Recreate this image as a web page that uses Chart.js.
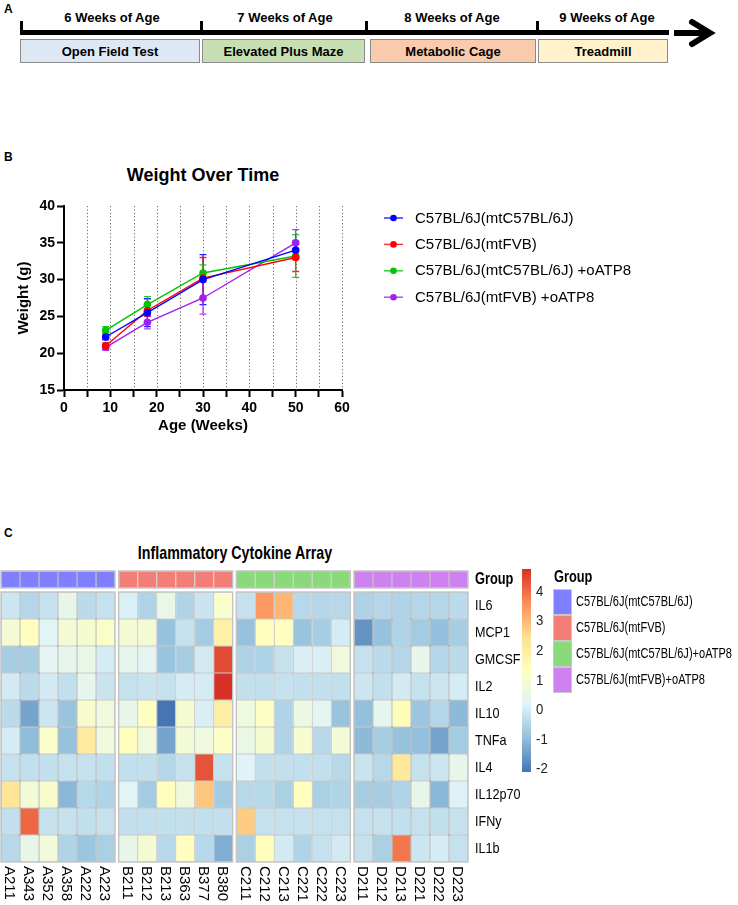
<!DOCTYPE html>
<html>
<head>
<meta charset="utf-8">
<script src="https://cdn.jsdelivr.net/npm/chart.js@4.4.1/dist/chart.umd.min.js"></script>
<style>
html,body{margin:0;padding:0;background:#fff;}
body{width:738px;height:905px;position:relative;overflow:hidden;font-family:"Liberation Sans",Arial,sans-serif;color:#000;}
.abs{position:absolute;}
.plab{font-weight:bold;font-size:12px;line-height:14px;}
.wk{font-weight:bold;font-size:13px;line-height:16px;white-space:nowrap;transform:translateX(-50%);}
.box{border:1px solid #8a8a8a;box-sizing:border-box;display:flex;align-items:center;justify-content:center;font-weight:bold;font-size:13px;white-space:nowrap;}
.ttl{font-weight:bold;white-space:nowrap;transform:translateX(-50%);}
canvas{position:absolute;left:0;}
</style>
</head>
<body>
<div class="abs plab" style="left:4px;top:2px">A</div>
<div id="panelA"></div>
<svg class="abs" style="left:660px;top:14px" width="70" height="40">
  <line x1="14" y1="19" x2="47" y2="19" stroke="#000" stroke-width="6"/>
  <polyline points="32,8 50,19 32,30" fill="none" stroke="#000" stroke-width="6" stroke-linecap="round" stroke-linejoin="miter"/>
</svg>

<div class="abs plab" style="left:4px;top:150px">B</div>
<div class="abs ttl" style="left:203px;top:164px;font-size:18px;line-height:22px">Weight Over Time</div>
<canvas id="weightChart" width="738" height="300" style="top:140px;width:738px;height:300px"></canvas>

<div class="abs plab" style="left:4px;top:526px">C</div>
<div class="abs ttl" style="left:235px;top:541px;font-size:19px;line-height:23px;transform:translateX(-50%) scaleX(0.75)">Inflammatory Cytokine Array</div>
<canvas id="heatChart" width="738" height="365" style="top:540px;width:738px;height:365px"></canvas>

<script>
// ---------------- Panel A content ----------------
const timelineWeeks = ['6 Weeks of Age', '7 Weeks of Age', '8 Weeks of Age', '9 Weeks of Age'];
const timelineTests = ['Open Field Test', 'Elevated Plus Maze', 'Metabolic Cage', 'Treadmill'];

// ---------------- Panel B data ----------------
const ageWeeks = [9, 18, 30, 50];
const weightSeriesNames = ['C57BL/6J(mtC57BL/6J)', 'C57BL/6J(mtFVB)', 'C57BL/6J(mtC57BL/6J) +oATP8', 'C57BL/6J(mtFVB) +oATP8'];
const weightMtC57 = [22.2, 25.5, 30.0, 34.0];
const weightMtFVB = [21.0, 25.8, 30.2, 33.0];
const weightMtC57oATP8 = [23.1, 26.6, 30.9, 33.2];
const weightMtFVBoATP8 = [20.8, 24.2, 27.5, 35.0];
const errMtC57 = [0.4, 1.9, 3.4, 1.2];
const errMtFVB = [0.4, 0.8, 2.8, 1.9];
const errMtC57oATP8 = [0.5, 1.1, 1.1, 2.9];
const errMtFVBoATP8 = [0.4, 0.9, 2.2, 1.8];

// ---------------- Panel C data ----------------
const samples = ['A211','A343','A352','A358','A222','A223',
                 'B211','B212','B213','B363','B377','B380',
                 'C211','C212','C213','C221','C222','C223',
                 'D211','D212','D213','D221','D222','D223'];
const groupNames = ['C57BL/6J(mtC57BL/6J)', 'C57BL/6J(mtFVB)', 'C57BL/6J(mtC57BL/6J)+oATP8', 'C57BL/6J(mtFVB)+oATP8'];
const sampleGroup = [0,0,0,0,0,0, 1,1,1,1,1,1, 2,2,2,2,2,2, 3,3,3,3,3,3];
const cytokines = ['IL6','MCP1','GMCSF','IL2','IL10','TNFa','IL4','IL12p70','IFNy','IL1b'];
const il6     = [-0.10,-0.45,-0.20, 0.50,-0.35,-0.20,  0.10,-0.50, 0.53,-0.50,-0.15, 1.12, -0.20, 3.45, 3.06,-0.40,-0.45,-0.40, -0.54,-0.45,-0.50,-0.45,-0.45,-0.35];
const mcp1    = [ 0.92, 1.36, 0.24, 0.92, 0.97, 1.16,  0.92, 0.92,-0.88,-0.20,-0.69, 1.90, -0.88, 1.36, 1.36,-0.84,-0.64, 0.04, -1.62,-0.88,-0.50,-0.69,-0.93,-0.64];
const gmcsf   = [-0.64,-0.64, 0.29, 0.43, 0.53, 0.04,  0.43, 0.34,-0.84,-0.64, 0.00, 4.43, -0.54,-0.54,-0.20, 0.09, 0.09, 0.77, -0.20,-0.35,-0.45, 0.48,-0.45,-0.35];
const il2     = [ 0.00,-0.35, 0.00,-0.25, 0.43,-0.15, -0.20,-0.15,-0.20, 0.04, 0.04, 4.77, -0.25,-0.25,-0.20,-0.25,-0.25,-0.25, -0.10,-0.25, 0.00,-0.20,-0.10, 0.04];
const il10    = [-0.35,-1.37,-0.10,-0.84, 1.07, 0.77,  0.48, 1.36,-2.10, 0.97, 0.09, 1.99,  0.72, 1.26,-0.50, 0.68, 0.34,-0.84, -0.93, 0.38, 1.50,-0.79,-0.45,-1.03];
const tnfa    = [ 0.04,-0.98, 1.12,-0.88, 2.09, 0.77,  1.41, 0.77,-1.37, 0.87, 0.72, 1.21,  0.58, 0.97,-0.50, 1.02,-0.40, 0.87, -1.03,-0.64,-0.88,-0.93,-1.37,-0.69];
const il4     = [-0.20,-0.25,-0.25,-0.20,-0.20,-0.25, -0.25,-0.25,-0.45,-0.20, 4.33,-0.20,  0.19,-0.25,-0.25,-0.25,-0.25,-0.40, -0.15,-0.40, 2.19,-0.20,-0.10, 0.48];
const il12p70 = [ 2.29, 0.87, 1.07,-1.08,-0.40,-0.50,  0.24,-0.69, 1.36, 0.77, 2.82,-0.69, -0.40,-0.40,-0.59, 1.36,-0.59,-0.50, -0.64,-0.64,-0.50, 0.48,-1.08, 0.14];
const ifny    = [-0.25, 4.09,-0.20,-0.20,-0.25,-0.20, -0.25,-0.25,-0.25,-0.25,-0.25,-0.25,  2.77,-0.20,-0.20,-0.20,-0.20,-0.20, -0.20,-0.20,-0.25,-0.20,-0.25,-0.20];
const il1b    = [-0.40, 0.48, 0.82,-0.50,-0.79,-0.59,  0.48, 0.97,-0.40, 1.36,-0.40,-1.22, -0.59, 1.41, 0.00,-0.50,-0.20, 0.00, -0.20,-0.59, 3.89,-0.10, 0.04,-0.20];
const colorbarTicks = [4, 3, 2, 1, 0, -1, -2];

// ================= Panel A (diagram) =================
(function(){
  const host = document.getElementById('panelA');
  const wkCenters = [112, 285, 452, 607];
  const tickX = [20, 200, 365, 536];
  const boxes = [[20,200],[202,365],[370,536],[538,668]];
  const boxColors = ['#DEE8F4','#C6E0B4','#F8CBAD','#FFF2CC'];
  let html = '<div class="abs" style="left:20px;top:30px;width:649px;height:5px;background:#000"></div>';
  tickX.forEach(x => { html += '<div class="abs" style="left:'+x+'px;top:21px;width:3px;height:12px;background:#000"></div>'; });
  timelineWeeks.forEach((t,i) => { html += '<div class="abs wk" style="left:'+wkCenters[i]+'px;top:10px">'+t+'</div>'; });
  timelineTests.forEach((t,i) => {
    const b = boxes[i];
    html += '<div class="abs box" style="left:'+b[0]+'px;top:39px;width:'+(b[1]-b[0])+'px;height:24px;background:'+boxColors[i]+'">'+t+'</div>';
  });
  host.innerHTML = html;
})();

Chart.defaults.font.family = '"Liberation Sans", Arial, sans-serif';
Chart.defaults.color = '#000';

// ================= Panel B =================
const weightColors = ['#0000FF', '#FF0000', '#00C400', '#A020F0'];
const weightValues = [weightMtC57, weightMtFVB, weightMtC57oATP8, weightMtFVBoATP8];
const weightErrors = [errMtC57, errMtFVB, errMtC57oATP8, errMtFVBoATP8];

const dottedGrid = {
  id: 'dottedGrid',
  beforeDatasetsDraw(chart) {
    const {ctx, chartArea, scales: {x}} = chart;
    ctx.save();
    ctx.strokeStyle = '#6a6a6a';
    ctx.lineWidth = 1;
    ctx.setLineDash([1.2, 2.2]);
    x.ticks.forEach(t => {
      if (t.value <= x.min) return;
      const px = Math.round(x.getPixelForValue(t.value)) + 0.5;
      ctx.beginPath(); ctx.moveTo(px, chartArea.top); ctx.lineTo(px, chartArea.bottom); ctx.stroke();
    });
    ctx.restore();
  }
};
const errorBars = {
  id: 'errorBars',
  beforeDatasetsDraw(chart) {
    const {ctx, scales: {x, y}} = chart;
    chart.data.datasets.forEach(ds => {
      ctx.save();
      ctx.strokeStyle = ds.borderColor;
      ctx.globalAlpha = 0.85;
      ctx.lineWidth = 1.3;
      ds.data.forEach((p, i) => {
        const e = ds.errors[i];
        const px = x.getPixelForValue(p.x);
        const t = y.getPixelForValue(p.y + e), b = y.getPixelForValue(p.y - e);
        ctx.beginPath();
        ctx.moveTo(px, t); ctx.lineTo(px, b);
        ctx.moveTo(px - 3.5, t); ctx.lineTo(px + 3.5, t);
        ctx.moveTo(px - 3.5, b); ctx.lineTo(px + 3.5, b);
        ctx.stroke();
      });
      ctx.restore();
    });
  }
};
const weightLegend = {
  id: 'weightLegend',
  afterDraw(chart) {
    const {ctx} = chart;
    ctx.save();
    chart.data.datasets.forEach((ds, i) => {
      const yy = 78 + i * 26.4;
      ctx.strokeStyle = ds.borderColor; ctx.lineWidth = 1.5; ctx.globalAlpha = 0.8;
      ctx.beginPath(); ctx.moveTo(384, yy); ctx.lineTo(403, yy); ctx.stroke();
      ctx.globalAlpha = 1;
      ctx.fillStyle = ds.borderColor;
      ctx.beginPath(); ctx.arc(393.5, yy, 3.3, 0, Math.PI * 2); ctx.fill();
      ctx.fillStyle = '#000';
      ctx.font = '15px "Liberation Sans", Arial, sans-serif';
      ctx.textAlign = 'left'; ctx.textBaseline = 'middle';
      ctx.fillText(ds.label, 415, yy + 0.5);
    });
    ctx.restore();
  }
};

new Chart(document.getElementById('weightChart'), {
  type: 'line',
  data: {
    datasets: weightSeriesNames.map((name, s) => ({
      label: name,
      data: ageWeeks.map((w, i) => ({x: w, y: weightValues[s][i]})),
      errors: weightErrors[s],
      borderColor: weightColors[s],
      backgroundColor: weightColors[s],
      pointBackgroundColor: weightColors[s],
      pointBorderWidth: 0,
      pointRadius: 3.8,
      borderWidth: 1.4,
      tension: 0
    }))
  },
  options: {
    responsive: false, animation: false, devicePixelRatio: 1,
    layout: {padding: {top: 66, right: 396, left: 0, bottom: 0}},
    plugins: {legend: {display: false}, tooltip: {enabled: false}, title: {display: false}},
    scales: {
      x: {
        type: 'linear', min: 0, max: 60,
        afterFit(s) { s.height = 50; },
        ticks: {stepSize: 5, autoSkip: false, maxRotation: 0, padding: 3, color: '#000',
                font: {size: 14, weight: 'bold'},
                callback: v => (v % 10 === 0 ? String(v) : '')},
        grid: {drawOnChartArea: false, drawTicks: true, tickLength: 7, tickWidth: 2, tickColor: '#000'},
        border: {display: true, color: '#000', width: 2},
        title: {display: true, text: 'Age (Weeks)', color: '#000', font: {size: 15, weight: 'bold'}, padding: {top: 0, bottom: 5}}
      },
      y: {
        type: 'linear', min: 15, max: 40,
        afterFit(s) { s.width = 64; },
        ticks: {stepSize: 5, padding: 2, color: '#000', font: {size: 14, weight: 'bold'}},
        grid: {drawOnChartArea: false, drawTicks: true, tickLength: 7, tickWidth: 2, tickColor: '#000'},
        border: {display: true, color: '#000', width: 2},
        title: {display: true, text: 'Weight (g)', color: '#000', font: {size: 15, weight: 'bold'}, padding: {top: 15, bottom: 0}}
      }
    }
  },
  plugins: [dottedGrid, errorBars, weightLegend]
});

// ================= Panel C =================
const cytokineValues = [il6, mcp1, gmcsf, il2, il10, tnfa, il4, il12p70, ifny, il1b];
const groupColors = ['#7F7FFF', '#F37E78', '#8AD97A', '#CD82EF'];
const heatStops = ['#4575B4','#91BFDB','#E0F3F8','#FFFFBF','#FEE090','#FC8D59','#D73027'];
const heatMin = -2.1, heatMax = 4.77;
const baseFont = '"Liberation Sans", Arial, sans-serif';
function hexRgb(h) { return [parseInt(h.slice(1,3),16), parseInt(h.slice(3,5),16), parseInt(h.slice(5,7),16)]; }
const heatRgb = heatStops.map(hexRgb);
function heatColor(v) {
  let t = (v - heatMin) / (heatMax - heatMin);
  t = Math.max(0, Math.min(1, t));
  const s = t * (heatRgb.length - 1);
  const i = Math.min(heatRgb.length - 2, Math.floor(s));
  const f = s - i;
  const a = heatRgb[i], b = heatRgb[i + 1];
  return 'rgb(' + [0,1,2].map(k => Math.round(a[k] + (b[k] - a[k]) * f)).join(',') + ')';
}
// draw condensed text (Arial-Narrow-like) by squeezing horizontally
function narrowText(ctx, text, x, y, sx) {
  ctx.save();
  ctx.translate(x, y);
  ctx.scale(sx, 1);
  ctx.fillText(text, 0, 0);
  ctx.restore();
}
const GROUP_GAP = 0.19;
const GROUP_SIZE = 6;
function colStart(i) { const g = Math.floor(i / GROUP_SIZE); return g * (GROUP_SIZE + GROUP_GAP) + (i % GROUP_SIZE); }
function colCenter(i) { return colStart(i) + 0.5; }
const nGroups = groupNames.length;
const xMaxUnits = nGroups * GROUP_SIZE + (nGroups - 1) * GROUP_GAP;
const ANNOT = [-0.78, -0.15];

const heatDecor = {
  id: 'heatDecor',
  afterDatasetsDraw(chart) {
    const {ctx, scales: {x, y}} = chart;
    ctx.save();
    // group outlines
    ctx.strokeStyle = '#c4c4c4'; ctx.lineWidth = 1.4;
    for (let g = 0; g < nGroups; g++) {
      const x0 = x.getPixelForValue(g * (GROUP_SIZE + GROUP_GAP));
      const x1 = x.getPixelForValue(g * (GROUP_SIZE + GROUP_GAP) + GROUP_SIZE);
      const y0 = y.getPixelForValue(0), y1 = y.getPixelForValue(cytokines.length);
      ctx.strokeRect(x0, y0, x1 - x0, y1 - y0);
      const a0 = y.getPixelForValue(ANNOT[0]), a1 = y.getPixelForValue(ANNOT[1]);
      ctx.strokeRect(x0, a0, x1 - x0, a1 - a0);
    }
    // row labels
    ctx.fillStyle = '#000';
    ctx.textAlign = 'left'; ctx.textBaseline = 'middle';
    ctx.font = 'bold 16px ' + baseFont;
    narrowText(ctx, 'Group', 475, y.getPixelForValue((ANNOT[0] + ANNOT[1]) / 2), 0.8);
    ctx.font = '15px ' + baseFont;
    cytokines.forEach((c, r) => narrowText(ctx, c, 475, y.getPixelForValue(r + 0.5), 0.84));
    // column labels (rotated, reading downward)
    ctx.font = '15px ' + baseFont;
    samples.forEach((s, i) => {
      ctx.save();
      ctx.translate(x.getPixelForValue(colCenter(i)) - 1, y.getPixelForValue(cytokines.length) + 4);
      ctx.rotate(Math.PI / 2);
      ctx.textAlign = 'left'; ctx.textBaseline = 'middle';
      ctx.fillText(s, 0, 0);
      ctx.restore();
    });
    // colour bar
    const cbTop = 29, cbBot = 232, cbX = 522, cbW = 9;
    const valToPx = v => cbTop + (heatMax - v) / (heatMax - heatMin) * (cbBot - cbTop);
    for (let py = cbTop; py < cbBot; py++) {
      const v = heatMax - (py + 0.5 - cbTop) / (cbBot - cbTop) * (heatMax - heatMin);
      ctx.fillStyle = heatColor(v);
      ctx.fillRect(cbX, py, cbW, 1);
    }
    ctx.fillStyle = '#222';
    ctx.font = '15px ' + baseFont;
    colorbarTicks.forEach(t => narrowText(ctx, String(t), 536, valToPx(t), 0.88));
    // group legend
    ctx.fillStyle = '#000';
    ctx.font = 'bold 16px ' + baseFont;
    narrowText(ctx, 'Group', 554, 38, 0.8);
    ctx.font = '13.8px ' + baseFont;
    groupNames.forEach((g, i) => {
      const top = 49 + i * 26;
      ctx.fillStyle = groupColors[i];
      ctx.fillRect(553, top, 19, 26);
      ctx.strokeStyle = '#c8c8c8'; ctx.lineWidth = 1;
      ctx.strokeRect(553.5, top + 0.5, 18, 25);
      ctx.fillStyle = '#000';
      narrowText(ctx, g, 576, top + 13, 0.8);
    });
    ctx.restore();
  }
};

const heatDatasets = [{
  label: 'Group',
  data: samples.map((s, i) => ({x: colCenter(i), y: ANNOT.slice()})),
  backgroundColor: samples.map((s, i) => groupColors[sampleGroup[i]])
}].concat(cytokines.map((c, r) => ({
  label: c,
  data: samples.map((s, i) => ({x: colCenter(i), y: [r, r + 1]})),
  backgroundColor: cytokineValues[r].map(v => heatColor(v))
})));

new Chart(document.getElementById('heatChart'), {
  type: 'bar',
  data: {datasets: heatDatasets},
  options: {
    responsive: false, animation: false, devicePixelRatio: 1,
    layout: {padding: {top: 30.4, bottom: 43, left: 1, right: 270}},
    plugins: {legend: {display: false}, tooltip: {enabled: false}},
    datasets: {bar: {grouped: false, barPercentage: 1, categoryPercentage: 1, borderSkipped: false,
                     borderWidth: 0.6, borderColor: '#9a9a9a', inflateAmount: 0}},
    scales: {
      x: {type: 'linear', min: 0, max: xMaxUnits, offset: false, display: false, ticks: {stepSize: 5}},
      y: {type: 'linear', min: -0.8, max: cytokines.length, reverse: true, display: false}
    }
  },
  plugins: [heatDecor]
});
</script>
</body>
</html>
